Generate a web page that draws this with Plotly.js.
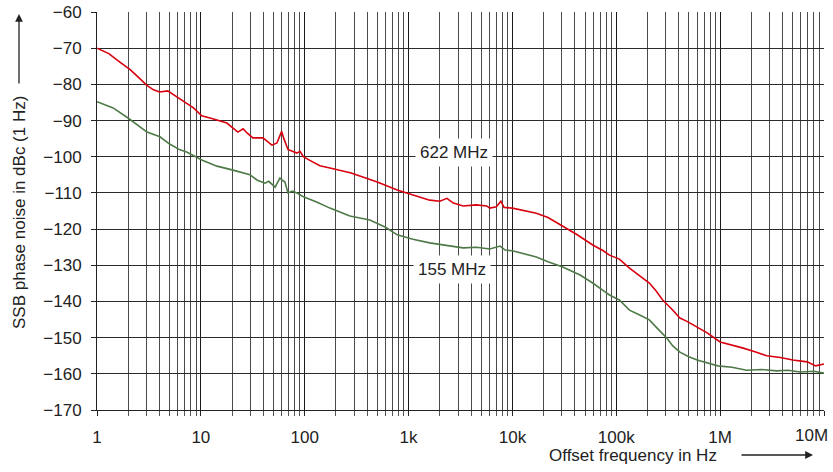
<!DOCTYPE html>
<html>
<head>
<meta charset="utf-8">
<script src="https://cdn.plot.ly/plotly-3.0.1.min.js"></script>
<style>html,body{margin:0;padding:0;background:#fff;}#chart{width:833px;height:472px;}</style>
</head>
<body>
<div id="chart"></div>
<script>
// ---- data ----
const freq622 = [1, 1.3, 1.6, 2.1, 2.6, 3.0, 3.5, 4.0, 4.8, 5.5, 7.0, 8.5, 10.2, 13, 17.8, 22.7, 25.5, 28, 31.7, 39.6, 45, 48.3, 54, 57, 60, 63, 69, 76, 84, 90, 97, 112, 140, 175, 218, 280, 362, 500, 777, 1100, 1600, 2000, 2340, 2700, 3360, 4500, 5650, 6060, 7000, 7740, 8300, 10000, 13000, 17000, 22000, 27000, 37700, 41700, 59300, 75000, 86000, 107000, 134000, 170000, 208000, 240000, 280000, 340000, 410000, 480000, 550000, 650000, 750000, 1000000, 1300000, 1670000, 2200000, 2800000, 3800000, 5000000, 6900000, 8300000, 10000000];
const noise622 = [-70, -71.5, -73.5, -76, -78.5, -80.2, -81.5, -82.1, -81.8, -83, -84.9, -86.5, -88.7, -89.5, -90.7, -93.2, -92.3, -93.5, -94.8, -94.8, -96, -96.8, -96.2, -94.5, -93, -95, -98, -98.5, -99, -98.5, -100, -101, -102.5, -103.1, -103.7, -104.5, -105.6, -107, -109.2, -110.5, -112, -112.3, -111.5, -112.8, -113.6, -113.3, -113.6, -114.2, -113.8, -112.3, -114, -114.2, -114.8, -115.6, -116.8, -118.3, -120.8, -121.5, -124.4, -126, -127.2, -128.3, -130.8, -133, -134.9, -137, -139.6, -142, -144.6, -145.5, -146.5, -147.5, -148.7, -151.2, -152, -152.9, -154, -155, -155.5, -156.2, -156.7, -157.8, -157.3];

const freq155 = [1, 1.43, 1.99, 2.5, 3.03, 4.04, 5, 6.3, 7.3, 10.2, 14.3, 20.4, 29.7, 35, 41.5, 45, 51.9, 55, 57.7, 61, 64.5, 69, 76, 84, 96, 130, 175, 272, 424, 600, 777, 1100, 1600, 2300, 3360, 4500, 6060, 7600, 8500, 10000, 13000, 17000, 22000, 30500, 44800, 59300, 75000, 86000, 107000, 134000, 170000, 208000, 250000, 306000, 350000, 410000, 500000, 600000, 950000, 1300000, 1800000, 2500000, 3500000, 4500000, 5900000, 8000000, 10000000];
const noise155 = [-84.8, -86.5, -89.3, -91.5, -93.2, -94.5, -96.5, -98.1, -98.7, -100.9, -102.6, -103.7, -105, -106.5, -107.3, -106.8, -108.4, -107, -105.9, -106.5, -107, -110, -109.5, -110, -111, -112.5, -114.2, -116.4, -117.5, -119.5, -121.6, -122.8, -123.8, -124.5, -125.2, -125, -125.5, -124.7, -125.8, -126, -126.8, -127.7, -129, -130.5, -132.7, -134.9, -137, -138.2, -139.6, -142.4, -143.8, -145.1, -147.5, -150.1, -152.3, -154, -155.3, -156.2, -157.8, -158.2, -159, -158.8, -159.2, -159.0, -159.5, -159.3, -159.8];

const xTickVals = [1, 10, 100, 1e3, 1e4, 1e5, 1e6, 1e7];
const xTickText = ['1', '10', '100', '1k', '10k', '100k', '1M', '10M'];
const yTickVals = [-170, -160, -150, -140, -130, -120, -110, -100, -90, -80, -70, -60];

const minorVals = [];
for (let d = 0; d < 7; d++) for (let k = 2; k <= 9; k++) minorVals.push(k * Math.pow(10, d));

const FONT = 'Liberation Sans, Arial, sans-serif';
const FS = 17;

const traces = [
  {x: freq622, y: noise622, type: 'scatter', mode: 'lines', line: {color: '#d8000f', width: 1.6}, name: '622 MHz', hoverinfo: 'skip'},
  {x: freq155, y: noise155, type: 'scatter', mode: 'lines', line: {color: '#4e7a47', width: 1.6}, name: '155 MHz', hoverinfo: 'skip'}
];

// last x label drawn as annotation so it can sit inside the page edge
const shownText = xTickText.map((t, i) => i === xTickText.length - 1 ? '' : t);

const layout = {
  width: 833, height: 472,
  margin: {l: 97, r: 9, t: 12, b: 62},
  paper_bgcolor: '#fff', plot_bgcolor: '#fff',
  showlegend: false,
  font: {family: FONT, size: FS, color: '#222'},
  xaxis: {
    type: 'log', range: [0, 7],
    tickmode: 'array', tickvals: xTickVals, ticktext: shownText,
    showgrid: true, gridcolor: '#1a1a1a', gridwidth: 1,
    ticks: 'outside', ticklen: 5, tickcolor: '#222', tickwidth: 1,
    ticklabelstandoff: 7,
    showline: true, linecolor: '#222', linewidth: 1,
    zeroline: false,
    minor: {tickmode: 'array', tickvals: minorVals, showgrid: true, gridcolor: '#4a4a4a', gridwidth: 1, ticks: 'outside', ticklen: 5, tickcolor: '#555'},
    tickfont: {family: FONT, size: FS, color: '#222'}
  },
  yaxis: {
    range: [-170, -60],
    tickmode: 'array', tickvals: yTickVals,
    showgrid: true, gridcolor: '#2a2a2a', gridwidth: 1,
    ticks: 'outside', ticklen: 5, tickcolor: '#222',
    ticklabelstandoff: 6,
    showline: true, linecolor: '#222', linewidth: 1,
    zeroline: false,
    tickfont: {family: FONT, size: FS, color: '#222'}
  },
  annotations: [
    {xref: 'paper', yref: 'paper', x: (19 - 97) / 727, y: (410 - 213) / 398, text: 'SSB phase noise in dBc (1 Hz)', textangle: -90, showarrow: false, font: {family: FONT, size: FS, color: '#222'}, xanchor: 'center', yanchor: 'middle'},
    {xref: 'paper', yref: 'paper', x: (19 - 97) / 727, y: (410 - 14) / 398, ax: (19 - 97) / 727, ay: (410 - 85) / 398, axref: 'paper', ayref: 'paper', text: '', showarrow: true, arrowhead: 2, arrowsize: 1.2, arrowwidth: 1.3, arrowcolor: '#222'},
    {xref: 'paper', yref: 'paper', x: (633 - 97) / 727, y: (410 - 455) / 398, text: 'Offset frequency in Hz', showarrow: false, font: {family: FONT, size: FS, color: '#222'}, xanchor: 'center', yanchor: 'middle'},
    {xref: 'paper', yref: 'paper', x: (813 - 97) / 727, y: (410 - 455) / 398, ax: (740 - 97) / 727, ay: (410 - 455) / 398, axref: 'paper', ayref: 'paper', text: '', showarrow: true, arrowhead: 2, arrowsize: 1.2, arrowwidth: 1.3, arrowcolor: '#222'},
    {xref: 'x', yref: 'paper', x: 7, y: (410 - 435) / 398, text: xTickText[xTickText.length - 1], showarrow: false, font: {family: FONT, size: FS, color: '#222'}, xanchor: 'right', xshift: 6, yanchor: 'middle'},
    {xref: 'paper', yref: 'paper', x: (454 - 97) / 727, y: (410 - 152) / 398, text: '622 MHz', showarrow: false, bgcolor: '#fff', borderpad: 4, font: {family: FONT, size: FS, color: '#222'}, xanchor: 'center', yanchor: 'middle'},
    {xref: 'paper', yref: 'paper', x: (452 - 97) / 727, y: (410 - 269) / 398, text: '155 MHz', showarrow: false, bgcolor: '#fff', borderpad: 4, font: {family: FONT, size: FS, color: '#222'}, xanchor: 'center', yanchor: 'middle'}
  ]
};

Plotly.newPlot('chart', traces, layout, {displayModeBar: false, staticPlot: true});
</script>
</body>
</html>
